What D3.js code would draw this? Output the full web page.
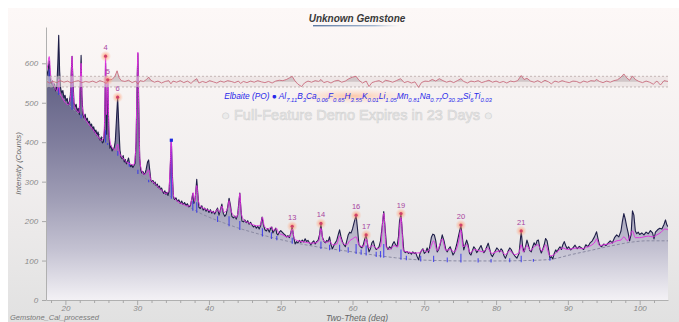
<!DOCTYPE html>
<html>
<head>
<meta charset="utf-8">
<script src="https://cdn.jsdelivr.net/npm/d3@7"></script>
<style>
    html, body { margin: 0; padding: 0; background: #fff; }
    svg { display: block; }
</style>
</head>
<body>
<svg id="chart"></svg>
<script>
// observed pattern [two-theta, counts]
const observed = [
    [17.3, 588], [17.45, 570], [17.6, 584], [17.75, 606], [17.9, 560], [18.05, 548], [18.2, 556], [18.35, 540],
    [18.5, 548], [18.65, 530], [18.8, 541], [18.95, 600], [19.07, 671], [19.2, 580], [19.35, 535], [19.5, 525],
    [19.65, 531], [19.8, 512], [19.95, 519], [20.1, 505], [20.25, 511], [20.4, 495], [20.55, 501], [20.7, 520],
    [20.85, 590], [20.93, 618], [21.05, 560], [21.2, 500], [21.35, 490], [21.5, 496], [21.65, 478], [21.8, 486],
    [21.95, 470], [22.1, 560], [22.19, 620], [22.3, 520], [22.45, 470], [22.6, 462], [22.75, 471], [22.9, 455],
    [23.05, 461], [23.2, 448], [23.35, 453], [23.5, 440], [23.65, 446], [23.8, 432], [23.95, 439], [24.1, 425],
    [24.25, 431], [24.4, 418], [24.55, 426], [24.7, 410], [24.85, 405], [25.0, 413], [25.15, 398], [25.3, 401],
    [25.45, 430], [25.6, 600], [25.75, 420], [25.9, 555], [26.05, 430], [26.2, 385], [26.35, 391], [26.5, 378],
    [26.65, 383], [26.8, 386], [26.95, 402], [27.1, 452], [27.28, 514], [27.45, 440], [27.6, 380], [27.75, 362],
    [27.9, 358], [28.05, 366], [28.2, 350], [28.35, 356], [28.5, 345], [28.65, 352], [28.8, 360], [28.95, 345],
    [29.1, 338], [29.25, 343], [29.4, 336], [29.55, 341], [29.7, 346], [29.85, 400], [30.0, 560], [30.1, 625],
    [30.2, 520], [30.35, 360], [30.5, 330], [30.65, 322], [30.8, 326], [30.95, 318], [31.1, 321], [31.25, 331],
    [31.45, 350], [31.6, 355], [31.75, 330], [31.9, 305], [32.05, 300], [32.2, 303], [32.35, 295], [32.5, 299],
    [32.65, 290], [32.8, 294], [32.95, 285], [33.1, 289], [33.25, 280], [33.4, 284], [33.55, 275], [33.7, 270],
    [33.85, 277], [34.0, 268], [34.15, 273], [34.3, 265], [34.45, 276], [34.6, 330], [34.76, 405], [34.9, 320],
    [35.05, 262], [35.2, 255], [35.4, 259], [35.6, 250], [35.8, 254], [36.0, 245], [36.2, 251], [36.4, 242],
    [36.6, 247], [36.8, 240], [37.0, 244], [37.2, 236], [37.4, 239], [37.6, 255], [37.75, 270], [37.9, 245],
    [38.1, 260], [38.3, 306], [38.45, 270], [38.6, 235], [38.8, 232], [39.0, 239], [39.2, 228], [39.4, 233],
    [39.6, 225], [39.8, 231], [40.0, 222], [40.2, 229], [40.4, 220], [40.6, 225], [40.8, 218], [41.0, 226],
    [41.2, 233], [41.4, 215], [41.6, 229], [41.8, 243], [42.0, 220], [42.2, 212], [42.4, 217], [42.6, 235],
    [42.8, 258], [43.0, 240], [43.2, 212], [43.4, 208], [43.6, 213], [43.8, 205], [44.0, 216], [44.15, 245],
    [44.3, 271], [44.45, 232], [44.6, 200], [44.8, 198], [45.0, 203], [45.2, 196], [45.4, 201], [45.6, 192],
    [45.8, 197], [46.0, 190], [46.2, 185], [46.4, 189], [46.6, 182], [46.8, 187], [47.0, 180], [47.2, 189],
    [47.4, 210], [47.6, 190], [47.8, 178], [48.0, 175], [48.2, 181], [48.4, 172], [48.6, 182], [48.75, 185],
    [48.9, 170], [49.1, 176], [49.3, 182], [49.45, 168], [49.6, 165], [49.8, 172], [50.0, 176], [50.2, 172],
    [50.4, 168], [50.6, 165], [50.8, 160], [51.0, 163], [51.2, 158], [51.4, 170], [51.6, 187], [51.8, 160],
    [52.0, 142], [52.2, 148], [52.4, 145], [52.6, 151], [52.8, 146], [53.0, 152], [53.2, 147], [53.4, 155],
    [53.6, 148], [53.8, 151], [54.0, 145], [54.2, 140], [54.4, 146], [54.6, 150], [54.8, 142], [55.0, 148],
    [55.2, 151], [55.4, 165], [55.6, 194], [55.8, 160], [56.0, 150], [56.2, 145], [56.4, 151], [56.6, 148],
    [56.8, 160], [57.0, 140], [57.2, 130], [57.4, 138], [57.6, 145], [57.8, 151], [58.0, 165], [58.2, 178],
    [58.4, 160], [58.6, 148], [58.8, 140], [59.0, 135], [59.2, 150], [59.4, 165], [59.6, 172], [59.8, 170],
    [60.0, 180], [60.2, 195], [60.5, 215], [60.7, 180], [60.9, 140], [61.1, 135], [61.3, 132], [61.5, 140],
    [61.7, 155], [61.9, 165], [62.1, 140], [62.3, 122], [62.5, 130], [62.7, 145], [62.9, 150], [63.1, 135],
    [63.3, 128], [63.5, 131], [63.7, 135], [63.9, 150], [64.15, 190], [64.35, 224], [64.55, 180], [64.75, 135],
    [64.95, 128], [65.15, 135], [65.4, 130], [65.6, 142], [65.8, 148], [66.0, 140], [66.2, 135], [66.4, 160],
    [66.55, 200], [66.75, 219], [66.95, 170], [67.15, 125], [67.35, 120], [67.6, 123], [67.8, 118], [68.0, 121],
    [68.2, 116], [68.4, 122], [68.6, 118], [68.8, 120], [69.0, 110], [69.2, 102], [69.4, 118], [69.6, 125],
    [69.8, 130], [70.0, 118], [70.2, 122], [70.4, 132], [70.6, 120], [70.8, 140], [71.0, 160], [71.2, 167],
    [71.4, 165], [71.6, 150], [71.8, 122], [72.0, 128], [72.2, 140], [72.5, 165], [72.75, 150], [73.0, 128],
    [73.2, 122], [73.4, 130], [73.6, 135], [73.8, 125], [74.0, 114], [74.2, 120], [74.5, 140], [74.8, 165],
    [75.1, 190], [75.3, 160], [75.5, 127], [75.7, 140], [75.9, 152], [76.1, 140], [76.3, 118], [76.5, 114],
    [76.7, 125], [76.9, 135], [77.1, 130], [77.3, 120], [77.5, 125], [77.7, 132], [77.9, 138], [78.1, 128],
    [78.3, 120], [78.5, 125], [78.7, 135], [78.9, 144], [79.1, 130], [79.3, 115], [79.5, 110], [79.7, 118],
    [79.9, 125], [80.1, 132], [80.3, 128], [80.5, 122], [80.7, 130], [80.9, 125], [81.1, 112], [81.3, 106],
    [81.5, 115], [81.7, 125], [81.9, 132], [82.1, 128], [82.3, 120], [82.6, 112], [82.9, 106], [83.2, 118],
    [83.5, 175], [83.7, 135], [83.9, 122], [84.1, 135], [84.3, 152], [84.5, 140], [84.7, 125], [84.9, 122],
    [85.1, 135], [85.3, 145], [85.5, 138], [85.7, 150], [85.9, 152], [86.1, 130], [86.3, 119], [86.5, 128],
    [86.7, 140], [86.9, 156], [87.1, 150], [87.3, 130], [87.5, 106], [87.7, 110], [87.9, 104], [88.1, 118],
    [88.3, 127], [88.5, 122], [88.7, 130], [88.9, 135], [89.1, 128], [89.3, 140], [89.5, 148], [89.7, 138],
    [89.9, 130], [90.1, 135], [90.4, 127], [90.7, 132], [91.0, 139], [91.3, 130], [91.6, 136], [91.9, 132],
    [92.2, 128], [92.5, 140], [92.8, 135], [93.1, 145], [93.4, 150], [93.7, 160], [94.0, 173], [94.2, 155],
    [94.4, 140], [94.7, 135], [95.0, 142], [95.3, 138], [95.6, 144], [95.9, 150], [96.2, 145], [96.5, 158],
    [96.8, 165], [97.1, 160], [97.4, 175], [97.6, 200], [97.8, 219], [98.0, 205], [98.2, 186], [98.4, 170],
    [98.6, 150], [98.8, 165], [99.0, 226], [99.2, 215], [99.4, 175], [99.6, 168], [99.8, 172], [100.0, 166],
    [100.3, 170], [100.6, 165], [100.9, 172], [101.2, 168], [101.5, 176], [101.8, 170], [102.0, 155], [102.2, 172],
    [102.5, 178], [102.8, 182], [103.1, 180], [103.4, 192], [103.6, 203], [103.8, 190], [103.95, 186]
];

// calculated (fitted) pattern
const calculated = [
    [17.3, 578], [17.5, 590], [17.75, 617], [17.95, 570], [18.2, 552], [18.5, 540], [18.8, 530], [19.0, 545],
    [19.07, 560], [19.2, 528], [19.5, 515], [19.8, 505], [20.1, 498], [20.4, 495], [20.7, 510], [20.85, 590],
    [20.93, 618], [21.05, 540], [21.3, 490], [21.6, 480], [21.9, 475], [22.05, 540], [22.19, 600], [22.35, 490],
    [22.7, 462], [23.0, 452], [23.5, 440], [24.0, 428], [24.5, 415], [25.0, 405], [25.3, 410], [25.5, 480],
    [25.6, 620], [25.72, 470], [25.85, 520], [25.92, 560], [26.05, 440], [26.3, 395], [26.6, 385], [27.0, 380],
    [27.28, 395], [27.5, 375], [28.0, 360], [28.5, 350], [29.0, 345], [29.5, 342], [29.8, 380], [30.0, 560],
    [30.1, 628], [30.2, 500], [30.4, 350], [30.7, 325], [31.0, 318], [31.3, 322], [31.6, 330], [31.9, 305],
    [32.5, 295], [33.0, 285], [33.5, 277], [34.0, 270], [34.4, 275], [34.6, 340], [34.76, 405], [34.9, 310],
    [35.1, 262], [35.5, 252], [36.0, 246], [36.5, 242], [37.0, 238], [37.4, 240], [37.6, 255], [37.8, 272],
    [38.0, 250], [38.3, 290], [38.5, 255], [38.8, 238], [39.3, 232], [39.8, 228], [40.3, 225], [40.8, 222],
    [41.2, 230], [41.5, 222], [41.8, 238], [42.1, 222], [42.6, 232], [42.8, 252], [43.0, 232], [43.4, 215],
    [43.8, 210], [44.1, 225], [44.3, 270], [44.5, 220], [44.9, 202], [45.5, 196], [46.0, 192], [46.6, 188],
    [47.2, 190], [47.45, 210], [47.7, 188], [48.2, 180], [48.7, 185], [49.0, 176], [49.4, 182], [49.7, 170],
    [50.3, 165], [50.9, 160], [51.3, 162], [51.6, 180], [51.9, 155], [52.4, 150], [53.0, 148], [53.6, 146],
    [54.2, 144], [54.8, 145], [55.3, 150], [55.6, 182], [55.9, 152], [56.4, 146], [56.8, 150], [57.2, 140],
    [57.8, 142], [58.2, 162], [58.6, 145], [59.2, 140], [59.6, 150], [60.0, 155], [60.5, 160], [60.9, 140],
    [61.5, 135], [61.9, 155], [62.3, 132], [62.8, 138], [63.4, 130], [63.9, 135], [64.35, 220], [64.7, 135],
    [65.2, 128], [65.8, 138], [66.3, 135], [66.75, 210], [67.1, 125], [67.6, 122], [68.2, 120], [68.8, 119],
    [69.4, 120], [69.8, 128], [70.3, 122], [70.8, 130], [71.3, 150], [71.8, 125], [72.5, 155], [73.0, 126],
    [73.6, 128], [74.2, 122], [74.8, 150], [75.1, 178], [75.4, 135], [75.9, 140], [76.4, 120], [77.0, 128],
    [77.6, 125], [78.2, 122], [78.8, 132], [79.4, 118], [80.0, 122], [80.6, 125], [81.3, 115], [81.9, 125],
    [82.6, 115], [83.2, 120], [83.5, 140], [83.8, 122], [84.3, 138], [84.8, 125], [85.3, 135], [85.8, 140],
    [86.4, 124], [86.9, 140], [87.5, 112], [88.0, 114], [88.6, 124], [89.3, 132], [89.9, 128], [90.6, 130],
    [91.3, 132], [92.0, 130], [92.6, 134], [93.2, 138], [93.8, 148], [94.0, 155], [94.4, 138], [95.0, 140],
    [95.6, 142], [96.2, 145], [96.8, 150], [97.4, 152], [97.8, 160], [98.3, 150], [99.0, 175], [99.4, 158],
    [100.0, 158], [100.6, 160], [101.2, 162], [101.8, 160], [102.4, 165], [103.0, 172], [103.5, 180], [103.95, 178]
];

// fitted background
const background = [
    [17.3, 560], [18, 545], [19, 525], [20, 505], [21, 485], [22, 468], [23, 450], [24, 432], [25, 415],
    [26, 395], [27, 375], [28, 357], [29, 340], [30, 325], [31, 310], [32, 297], [33, 283], [34, 270],
    [35, 258], [36, 248], [37, 238], [38, 228], [39, 218], [40, 210], [42, 196], [44, 183], [46, 172],
    [48, 162], [50, 153], [52, 145], [55, 135], [58, 127], [60, 122], [63, 114], [66, 107], [69, 102],
    [72, 100], [76, 99], [80, 99], [84, 100], [87, 102], [88.5, 106], [90, 113], [93, 125], [96, 137],
    [99, 147], [101, 150], [103.95, 150]
];

// obs - calc residual
const difference = [
    [17.3, 2], [17.8, -3], [18.3, 1], [18.8, -2], [19.3, 3], [19.8, -1], [20.3, 2], [20.8, -3], [21.3, 1],
    [21.8, 3], [22.3, -2], [22.8, 1], [23.3, -1], [23.8, 2], [24.3, -2], [24.8, 3], [25.3, 0], [25.7, -4],
    [26.0, 5], [26.5, 6], [26.9, 14], [27.2, 28], [27.5, 10], [27.8, 3], [28.3, 1], [28.8, 4], [29.3, -2],
    [29.8, 2], [30.1, -6], [30.4, 3], [30.9, 1], [31.3, 6], [31.6, 12], [31.9, 4], [32.4, -1], [32.9, 2],
    [33.4, -3], [33.9, 1], [34.4, 3], [34.7, -5], [35.0, 2], [35.5, -1], [36.0, 3], [36.5, -2], [37.0, 2],
    [37.5, -4], [37.9, 3], [38.3, 8], [38.6, -3], [39.1, 1], [39.6, -2], [40.1, 3], [40.6, 0], [41.1, -3],
    [41.6, 2], [42.1, -1], [42.6, 3], [43.1, 1], [43.6, -2], [44.1, 2], [44.4, -4], [44.8, 1], [45.3, -2],
    [45.8, 2], [46.3, -1], [46.8, 3], [47.3, 0], [47.8, -2], [48.3, 1], [48.8, -3], [49.3, 2], [49.8, 4],
    [50.3, 3], [50.8, 6], [51.2, 10], [51.6, 14], [52.0, 2], [52.4, -6], [52.9, -12], [53.3, -3], [53.8, 2],
    [54.3, -1], [54.8, 3], [55.3, 1], [55.6, 6], [56.0, -2], [56.5, 1], [57.0, -3], [57.5, 2], [58.0, 4],
    [58.5, -1], [59.0, 2], [59.5, 8], [60.0, 12], [60.5, 14], [60.9, 4], [61.4, -3], [61.9, 2], [62.3, -12],
    [62.7, -2], [63.2, 1], [63.7, 3], [64.2, -2], [64.6, 4], [65.1, 2], [65.6, -1], [66.1, 3], [66.7, 8],
    [67.2, -2], [67.7, 1], [68.2, -3], [68.7, 0], [69.2, -14], [69.6, -2], [70.1, 2], [70.6, 1], [71.1, 6],
    [71.6, 2], [72.1, 8], [72.6, 3], [73.1, -1], [73.6, 2], [74.1, -2], [74.6, 3], [75.1, 8], [75.5, 1],
    [76.0, -3], [76.5, 2], [77.0, 0], [77.5, 3], [78.0, -2], [78.5, 1], [79.0, 4], [79.5, -1], [80.0, 2],
    [80.5, -2], [81.0, 1], [81.5, -3], [82.0, 2], [82.5, 0], [83.0, 3], [83.5, 16], [83.9, 6], [84.3, 9],
    [84.8, 2], [85.3, -1], [85.8, 3], [86.3, -2], [86.8, 4], [87.3, 0], [87.7, -5], [88.2, 2], [88.7, -1],
    [89.2, 3], [89.7, 0], [90.2, -2], [90.7, 2], [91.2, 1], [91.7, -3], [92.2, 2], [92.7, -1], [93.2, 3],
    [93.7, 2], [94.0, 6], [94.4, 1], [94.9, -2], [95.4, 2], [95.9, -1], [96.4, 3], [96.9, 5], [97.4, 12],
    [97.8, 20], [98.2, 10], [98.6, 4], [99.0, 15], [99.4, 6], [99.9, 1], [100.4, -2], [100.9, 2], [101.4, -1],
    [101.9, -6], [102.4, 2], [102.9, -8], [103.4, 3], [103.95, 1]
];

// Elbaite reference peak positions [two-theta, top counts]
const refSticks = [
    [17.75, 585], [19.07, 540], [20.93, 555], [22.19, 470], [25.6, 430], [25.9, 398], [26.4, 383], [27.3, 378],
    [28.9, 350], [30.1, 330], [31.6, 305], [34.76, 405], [37.75, 250], [38.3, 248], [41.2, 212], [42.8, 212],
    [44.3, 200], [47.45, 182], [48.7, 172], [49.45, 162], [51.6, 158], [55.6, 148], [56.8, 140], [58.2, 140],
    [59.4, 134], [60.5, 142], [61.2, 128], [61.9, 138], [63.3, 122], [63.9, 124], [64.35, 142], [66.75, 128],
    [67.5, 112], [69.5, 112], [71.3, 112], [73.2, 108], [75.1, 117], [77.5, 106], [79.3, 104], [81.9, 106],
    [83.5, 112], [85.2, 104], [87.5, 108]
];

const peakLabels = ["4", "5", "6", "13", "14", "16", "17", "19", "20", "21"];
const peakTheta = [25.6, 25.9, 27.28, 51.6, 55.6, 60.5, 61.9, 66.75, 75.1, 83.5];
const peakCounts = [618, 558, 514, 187, 194, 215, 165, 219, 190, 175];

const xTicks = [20, 30, 40, 50, 60, 70, 80, 90, 100];
const yTicks = [0, 100, 200, 300, 400, 500, 600];
const formula = [["Al", "7.11"], ["B", "3"], ["Ca", "0.06"], ["F", "0.65"], ["H", "3.55"], ["K", "0.01"],
    ["Li", "1.05"], ["Mn", "0.81"], ["Na", "0.77"], ["O", "30.35"], ["Si", "6"], ["Ti", "0.03"]];

const width = 679;
const height = 322;
const plot = { left: 46, right: 668, top: 27, bottom: 300 };
const diffZero = 553;
const font = "'Liberation Sans', Arial, sans-serif";

const svg = d3.select("#chart")
    .attr("width", width)
    .attr("height", height)
    .style("font-family", font);

const defs = svg.append("defs");

const panelGrad = defs.append("linearGradient")
    .attr("id", "panelGrad")
    .attr("x1", 0).attr("y1", 0).attr("x2", 0).attr("y2", 1);
panelGrad.append("stop").attr("offset", "0%").attr("stop-color", "#fdf8f7");
panelGrad.append("stop").attr("offset", "55%").attr("stop-color", "#f1eeee");
panelGrad.append("stop").attr("offset", "100%").attr("stop-color", "#e1e1e1");

const fillGrad = defs.append("linearGradient")
    .attr("id", "fillGrad")
    .attr("gradientUnits", "userSpaceOnUse")
    .attr("x1", 0).attr("y1", 50).attr("x2", 0).attr("y2", plot.bottom);
[["0", "#55557a"], ["0.36", "#7e7c9c"], ["0.6", "#a09eb6"], ["0.8", "#c4c2d2"], ["1", "#f3f1f5"]]
    .forEach(s => fillGrad.append("stop").attr("offset", s[0]).attr("stop-color", s[1]));

const glowGrad = defs.append("radialGradient").attr("id", "glow");
glowGrad.append("stop").attr("offset", "0%").attr("stop-color", "#ff9060").attr("stop-opacity", 0.9);
glowGrad.append("stop").attr("offset", "100%").attr("stop-color", "#ffb090").attr("stop-opacity", 0);

const legendGlow = defs.append("radialGradient").attr("id", "legendGlow");
legendGlow.append("stop").attr("offset", "0%").attr("stop-color", "#ffb890").attr("stop-opacity", 0.75);
legendGlow.append("stop").attr("offset", "100%").attr("stop-color", "#ffd8c0").attr("stop-opacity", 0);

const lineGrad = defs.append("linearGradient").attr("id", "underline");
lineGrad.append("stop").attr("offset", "0%").attr("stop-color", "#4a6a98").attr("stop-opacity", 0.9);
lineGrad.append("stop").attr("offset", "70%").attr("stop-color", "#7f9cc0").attr("stop-opacity", 0.7);
lineGrad.append("stop").attr("offset", "100%").attr("stop-color", "#c8d6e6").attr("stop-opacity", 0);

defs.append("clipPath").attr("id", "plotClip")
    .append("rect")
    .attr("x", plot.left).attr("y", plot.top - 20)
    .attr("width", plot.right - plot.left).attr("height", plot.bottom - plot.top + 20);

svg.append("rect")
    .attr("x", 8).attr("y", 8)
    .attr("width", width - 8).attr("height", height - 8)
    .attr("fill", "url(#panelGrad)");

const x = d3.scaleLinear().domain([17.3, 103.95]).range([plot.left, plot.right]);
const y = d3.scaleLinear().domain([0, 692]).range([plot.bottom, plot.top]);

const g = svg.append("g").attr("clip-path", "url(#plotClip)");

// observed area
g.append("path")
    .attr("d", d3.area().x(d => x(d[0])).y0(y(0)).y1(d => y(d[1]))(observed))
    .attr("fill", "url(#fillGrad)");

g.append("path")
    .attr("d", d3.line().x(d => x(d[0])).y(d => y(d[1])).curve(d3.curveMonotoneX)(background))
    .attr("fill", "none")
    .attr("stroke", "#8a8aa2")
    .attr("stroke-width", 1)
    .attr("stroke-dasharray", "3,2");

const bgAt = t => {
    const i = d3.bisector(d => d[0]).left(background, t);
    const a = background[Math.max(0, i - 1)], b = background[Math.min(background.length - 1, i)];
    if (a[0] === b[0]) return a[1];
    return a[1] + (b[1] - a[1]) * (t - a[0]) / (b[0] - a[0]);
};

g.append("path")
    .attr("d", d3.line().x(d => x(d[0])).y(d => y(d[1]))(observed))
    .attr("fill", "none")
    .attr("stroke", "#1e1e48")
    .attr("stroke-width", 1.1)
    .attr("stroke-linejoin", "round");

g.selectAll(".stick")
    .data(refSticks)
    .enter()
    .append("line")
    .attr("class", "stick")
    .attr("x1", d => x(d[0])).attr("x2", d => x(d[0]))
    .attr("y1", d => y(bgAt(d[0]) - 4))
    .attr("y2", d => y(d[1]))
    .attr("stroke", "#3434ee")
    .attr("stroke-width", 1.1)
    .attr("opacity", 0.85);

g.append("path")
    .attr("d", d3.line().x(d => x(d[0])).y(d => y(d[1])).curve(d3.curveMonotoneX)(calculated))
    .attr("fill", "none")
    .attr("stroke", "#e030e0")
    .attr("stroke-width", 1)
    .attr("opacity", 0.95);

// selected reference peak marker
g.append("rect")
    .attr("x", x(34.76) - 1.6).attr("y", y(405) - 1.6)
    .attr("width", 3.2).attr("height", 3.2)
    .attr("fill", "#1a2ae0");

// residual band
g.append("rect")
    .attr("x", plot.left).attr("y", y(567))
    .attr("width", plot.right - plot.left).attr("height", y(540) - y(567))
    .attr("fill", "#e6dada")
    .attr("opacity", 0.55);
[567, 540].forEach(v => {
    g.append("line")
        .attr("x1", plot.left).attr("x2", plot.right)
        .attr("y1", y(v)).attr("y2", y(v))
        .attr("stroke", "#b8a8a8")
        .attr("stroke-width", 0.8)
        .attr("stroke-dasharray", "2,2");
});
g.append("path")
    .attr("d", d3.area().x(d => x(d[0])).y0(y(diffZero)).y1(d => y(diffZero + Math.max(0, d[1])))(difference))
    .attr("fill", "#9a8a90")
    .attr("opacity", 0.35);
g.append("path")
    .attr("d", d3.line().x(d => x(d[0])).y(d => y(diffZero + d[1]))(difference))
    .attr("fill", "none")
    .attr("stroke", "#c86074")
    .attr("stroke-width", 0.8);

// peak markers
const peaks = peakLabels.map((n, i) => ({ n: n, t: peakTheta[i], c: peakCounts[i] }));
const pk = svg.append("g");
pk.selectAll(".glow").data(peaks).enter().append("circle")
    .attr("cx", d => x(d.t)).attr("cy", d => y(d.c))
    .attr("r", 5.5)
    .attr("fill", "url(#glow)");
pk.selectAll(".dot").data(peaks).enter().append("circle")
    .attr("cx", d => x(d.t)).attr("cy", d => y(d.c))
    .attr("r", 1.6)
    .attr("fill", "#d0406a");
pk.selectAll(".lbl").data(peaks).enter().append("text")
    .attr("x", d => x(d.t)).attr("y", d => y(d.c) - 6)
    .attr("text-anchor", "middle")
    .attr("font-size", "7.5px")
    .attr("fill", "#a844a0")
    .text(d => d.n);

// axes
const xAxis = svg.append("g")
    .attr("transform", `translate(0,${plot.bottom})`)
    .call(d3.axisBottom(x).tickValues(xTicks).tickSize(5).tickSizeOuter(0).tickFormat(d3.format("d")));
svg.append("g")
    .attr("transform", `translate(0,${plot.bottom})`)
    .call(d3.axisBottom(x).tickValues(d3.range(18, 104, 2).filter(v => v % 10 !== 0)).tickSize(3).tickSizeOuter(0).tickFormat(""))
    .call(a => a.select(".domain").remove());
const yAxis = svg.append("g")
    .attr("transform", `translate(${plot.left},0)`)
    .call(d3.axisLeft(y).tickValues(yTicks).tickSize(4).tickSizeOuter(0));

svg.selectAll(".domain").attr("stroke", "#b0b0b0");
svg.selectAll(".tick line").attr("stroke", "#a8a8a8");
svg.selectAll(".tick text")
    .attr("fill", "#8a8a8a")
    .attr("font-size", "8px")
    .attr("font-style", "italic")
    .attr("font-family", font);
xAxis.selectAll(".tick text").attr("y", 6).attr("dy", "0.6em");
yAxis.selectAll(".tick text").attr("dx", "-0.1em");

svg.append("text")
    .attr("x", (plot.left + plot.right) / 2).attr("y", 321)
    .attr("text-anchor", "middle")
    .attr("font-size", "8.5px")
    .attr("font-style", "italic")
    .attr("fill", "#666")
    .text("Two-Theta (deg)");

svg.append("text")
    .attr("transform", `translate(21,${(plot.top + plot.bottom) / 2}) rotate(-90)`)
    .attr("text-anchor", "middle")
    .attr("font-size", "8px")
    .attr("font-style", "italic")
    .attr("fill", "#666")
    .text("Intensity (Counts)");

svg.append("text")
    .attr("x", 10).attr("y", 320)
    .attr("font-size", "7.5px")
    .attr("font-style", "italic")
    .attr("fill", "#7a7a7a")
    .text("Gemstone_Cal_processed");

// title
svg.append("text")
    .attr("x", 357).attr("y", 22)
    .attr("text-anchor", "middle")
    .attr("font-size", "10px")
    .attr("font-weight", "bold")
    .attr("font-style", "italic")
    .attr("fill", "#3a3a3a")
    .text("Unknown Gemstone");
svg.append("rect")
    .attr("x", 313).attr("y", 25)
    .attr("width", 88).attr("height", 1.4)
    .attr("fill", "url(#underline)");

// phase legend
svg.append("ellipse")
    .attr("cx", 352).attr("cy", 96)
    .attr("rx", 62).attr("ry", 8)
    .attr("fill", "url(#legendGlow)");

const legend = svg.append("text")
    .attr("x", 358).attr("y", 99)
    .attr("text-anchor", "middle")
    .attr("font-style", "italic")
    .attr("fill", "#2828ea");
legend.append("tspan").attr("font-size", "8.5px").text("Elbaite (PO) \u25CF ");
formula.forEach((f, i) => {
    legend.append("tspan").attr("font-size", "8.5px").attr("dy", i === 0 ? 0 : -2.5).text(f[0]);
    legend.append("tspan").attr("font-size", "6px").attr("dy", 2.5).text(f[1]);
});
const lw = legend.node().getComputedTextLength();
if (lw > 0) {
    const k = 268 / lw;
    legend.selectAll("tspan").each(function() {
        const s = parseFloat(d3.select(this).attr("font-size"));
        d3.select(this).attr("font-size", (s * k).toFixed(2) + "px");
    });
}

// demo watermark
const wm = svg.append("text")
    .attr("x", 357).attr("y", 120)
    .attr("text-anchor", "middle")
    .attr("font-size", "15px")
    .attr("fill", "#ebebeb")
    .attr("stroke", "#d2d2d2")
    .attr("stroke-width", 0.6)
    .text("\u25CF Full-Feature Demo Expires in 23 Days \u25CF");
const ww = wm.node().getComputedTextLength();
if (ww > 0) wm.attr("font-size", (15 * 272 / ww).toFixed(2) + "px");
</script>
</body>
</html>
